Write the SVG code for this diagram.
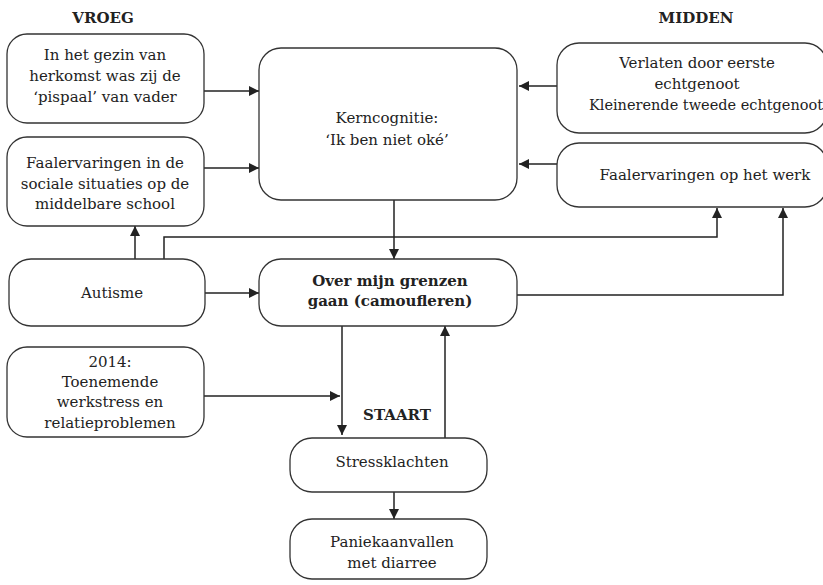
<svg xmlns="http://www.w3.org/2000/svg" width="823" height="585" viewBox="0 0 823 585">
<style>
.box{fill:#fff;stroke:#333;stroke-width:1.3}
.t{font-family:"DejaVu Serif",serif;font-size:15px;fill:#222;text-anchor:middle}
.s{font-size:14.5px}
.b{font-weight:bold}
.c{fill:none;stroke:#222;stroke-width:1.5}
</style>
<defs>
<marker id="ah" viewBox="0 0 10 10" refX="10" refY="5" markerWidth="10" markerHeight="10" markerUnits="userSpaceOnUse" orient="auto">
<path d="M0,0 L10,5 L0,10 Z" fill="#222"/>
</marker>
</defs>
<text class="t b" x="103" y="23">VROEG</text>
<text class="t b" x="696" y="23">MIDDEN</text>
<text class="t b" x="397" y="420">STAART</text>
<g id="connectors">
<path class="c" d="M204,91 H259" marker-end="url(#ah)"/>
<path class="c" d="M204,168 H259" marker-end="url(#ah)"/>
<path class="c" d="M557,86 H519" marker-end="url(#ah)"/>
<path class="c" d="M557,164 H519" marker-end="url(#ah)"/>
<path class="c" d="M394,200 V259" marker-end="url(#ah)"/>
<path class="c" d="M135,259 V226" marker-end="url(#ah)"/>
<path class="c" d="M164,259 V237 H717 V208" marker-end="url(#ah)"/>
<path class="c" d="M205,293 H259" marker-end="url(#ah)"/>
<path class="c" d="M517,295 H783 V208" marker-end="url(#ah)"/>
<path class="c" d="M204,396 H340" marker-end="url(#ah)"/>
<path class="c" d="M342,326 V435" marker-end="url(#ah)"/>
<path class="c" d="M445,438 V326" marker-end="url(#ah)"/>
<path class="c" d="M394,492 V519" marker-end="url(#ah)"/>
</g>
<g id="n-gezin"><rect class="box" x="7" y="34" width="197" height="89" rx="20"/>
<text class="t" x="105" y="60">In het gezin van</text><text class="t" x="105" y="81">herkomst was zij de</text><text class="t" x="105" y="102">‘pispaal’ van vader</text></g>
<g id="n-school"><rect class="box" x="7" y="137" width="197" height="89" rx="20"/>
<text class="t" x="105" y="168">Faalervaringen in de</text><text class="t" x="105" y="189">sociale situaties op de</text><text class="t" x="105" y="209">middelbare school</text></g>
<g id="n-kern"><rect class="box" x="259" y="48" width="258" height="152" rx="22"/>
<text class="t" x="387" y="123">Kerncognitie:</text><text class="t" x="387" y="145">‘Ik ben niet oké’</text></g>
<g id="n-verlaten"><rect class="box" x="557" y="43" width="270" height="90" rx="22"/>
<text class="t" x="697" y="68">Verlaten door eerste</text><text class="t" x="697" y="89">echtgenoot</text><text class="t s" x="706" y="110">Kleinerende tweede echtgenoot</text></g>
<g id="n-werk"><rect class="box" x="557" y="143" width="270" height="64" rx="22"/>
<text class="t" x="705" y="180">Faalervaringen op het werk</text></g>
<g id="n-autisme"><rect class="box" x="9" y="259" width="196" height="67" rx="22"/>
<text class="t" x="112" y="298">Autisme</text></g>
<g id="n-over"><rect class="box" x="259" y="259" width="258" height="67" rx="22"/>
<text class="t b" x="390" y="286">Over mijn grenzen</text><text class="t b" x="390" y="306">gaan (camoufleren)</text></g>
<g id="n-2014"><rect class="box" x="7" y="347" width="197" height="90" rx="20"/>
<text class="t" x="110" y="367">2014:</text><text class="t" x="110" y="387">Toenemende</text><text class="t" x="110" y="407">werkstress en</text><text class="t" x="110" y="428">relatieproblemen</text></g>
<g id="n-stress"><rect class="box" x="290" y="438" width="197" height="54" rx="22"/>
<text class="t" x="392" y="467">Stressklachten</text></g>
<g id="n-paniek"><rect class="box" x="290" y="519" width="197" height="60" rx="22"/>
<text class="t" x="392" y="547">Paniekaanvallen</text><text class="t" x="392" y="568">met diarree</text></g>
</svg>
